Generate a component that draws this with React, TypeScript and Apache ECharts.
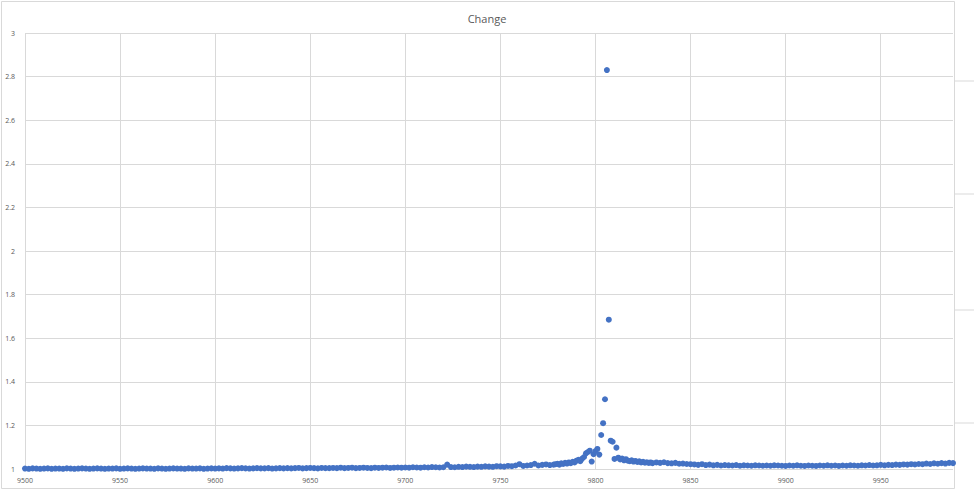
import React, { useEffect, useRef } from "react";
import * as echarts from "echarts";

const TITLE = "Change";
const X_MIN = 9500;
const X_MAX = 9988;
const Y_MIN = 1;
const Y_MAX = 3;

// Segment A: x = 9500..9598, step 2
const segAStart = 9500;
const segAStep = 2;
const segA = [
  1.002, 1.001, 1.003, 1.002, 1.001, 1.002, 1.003, 1.001, 1.002, 1.002,
  1.001, 1.003, 1.002, 1.001, 1.002, 1.003, 1.002, 1.001, 1.002, 1.003,
  1.002, 1.001, 1.002, 1.002, 1.003, 1.001, 1.002, 1.003, 1.002, 1.001,
  1.002, 1.003, 1.002, 1.002, 1.001, 1.003, 1.002, 1.001, 1.002, 1.003,
  1.002, 1.002, 1.001, 1.003, 1.002, 1.002, 1.003, 1.001, 1.002, 1.003,
];
// Segment B: x = 9600..9698, step 2
const segBStart = 9600;
const segBStep = 2;
const segB = [
  1.002, 1.003, 1.002, 1.004, 1.003, 1.002, 1.003, 1.004, 1.003, 1.002,
  1.003, 1.004, 1.003, 1.003, 1.004, 1.002, 1.003, 1.004, 1.003, 1.004,
  1.003, 1.004, 1.005, 1.003, 1.004, 1.005, 1.004, 1.003, 1.005, 1.004,
  1.004, 1.005, 1.004, 1.006, 1.004, 1.005, 1.006, 1.004, 1.005, 1.006,
  1.005, 1.004, 1.006, 1.005, 1.006, 1.007, 1.005, 1.006, 1.007, 1.006,
];
// Segment C: x = 9700..9778, step 2
const segCStart = 9700;
const segCStep = 2;
const segC = [
  1.007, 1.006, 1.008, 1.007, 1.006, 1.008, 1.007, 1.009, 1.008, 1.007,
  1.008, 1.02, 1.009, 1.008, 1.01, 1.009, 1.011, 1.01, 1.009, 1.011,
  1.01, 1.012, 1.011, 1.01, 1.013, 1.012, 1.011, 1.014, 1.013, 1.016,
  1.022, 1.014, 1.016, 1.018, 1.024, 1.016, 1.019, 1.021, 1.018, 1.02,
];
// Segment D (peak): x = 9779..9830, step 1
const segDStart = 9779;
const segDStep = 1;
const segD = [
  1.022, 1.024, 1.02, 1.026, 1.023, 1.028, 1.025, 1.03, 1.027, 1.033,
  1.03, 1.038, 1.042, 1.036, 1.048, 1.055, 1.072, 1.078, 1.084, 1.034,
  1.068, 1.082, 1.092, 1.066, 1.156, 1.21, 1.32, 2.83, 1.685, 1.13,
  1.125, 1.046, 1.098, 1.052, 1.044, 1.048, 1.04, 1.045, 1.038, 1.036,
  1.04, 1.034, 1.037, 1.032, 1.035, 1.03, 1.033, 1.029, 1.031, 1.028,
  1.03, 1.027,
];
// Segment E: x = 9832..9988, step 2
const segEStart = 9832;
const segEStep = 2;
const segE = [
  1.03, 1.028, 1.031, 1.027, 1.026, 1.028, 1.024, 1.025, 1.023, 1.022,
  1.021, 1.019, 1.022, 1.018, 1.02, 1.017, 1.019, 1.016, 1.018, 1.017,
  1.016, 1.018, 1.015, 1.017, 1.016, 1.015, 1.017, 1.016, 1.015, 1.016,
  1.015, 1.017, 1.016, 1.015, 1.014, 1.016, 1.015, 1.017, 1.015, 1.014,
  1.016, 1.015, 1.014, 1.016, 1.015, 1.017, 1.015, 1.016, 1.014, 1.016,
  1.015, 1.017, 1.016, 1.015, 1.017, 1.016, 1.018, 1.016, 1.017, 1.019,
  1.017, 1.019, 1.018, 1.02, 1.019, 1.021, 1.02, 1.022, 1.021, 1.023,
  1.022, 1.025, 1.023, 1.026, 1.024, 1.027, 1.025, 1.028, 1.027,
];

function toPoints(start: number, step: number, vals: number[]): number[][] {
  return vals.map((v, i) => [start + i * step, v]);
}

const points: number[][] = [
  ...toPoints(segAStart, segAStep, segA),
  ...toPoints(segBStart, segBStep, segB),
  ...toPoints(segCStart, segCStep, segC),
  ...toPoints(segDStart, segDStep, segD),
  ...toPoints(segEStart, segEStep, segE),
];

const GRID = "#d9d9d9";
const TEXT = "#595959";

export default function App() {
  const ref = useRef<HTMLDivElement>(null);
  useEffect(() => {
    if (!ref.current) return;
    const chart = echarts.init(ref.current, null, { renderer: "svg" });
    chart.setOption({
      animation: false,
      backgroundColor: "#ffffff",
      title: {
        text: TITLE,
        left: "center",
        top: 8,
        textStyle: {
          fontFamily: "Open Sans, sans-serif",
          fontSize: 11,
          fontWeight: "normal",
          color: TEXT,
        },
      },
      grid: { left: 25, right: 21, top: 33, bottom: 24 },
      xAxis: {
        type: "value",
        min: X_MIN,
        max: X_MAX,
        interval: 50,
        axisLine: { show: false },
        axisTick: { show: false },
        axisLabel: {
          showMaxLabel: false,
          fontSize: 7,
          color: TEXT,
          margin: 8,
          fontFamily: "Open Sans, sans-serif",
          formatter: (v: number) => String(v),
        },
        splitLine: { show: true, showMaxLine: false, lineStyle: { color: GRID, width: 1 } },
      },
      yAxis: {
        type: "value",
        min: Y_MIN,
        max: Y_MAX,
        interval: 0.2,
        axisLine: { show: false },
        axisTick: { show: false },
        axisLabel: {
          fontSize: 7,
          color: TEXT,
          margin: 10,
          fontFamily: "Open Sans, sans-serif",
        },
        splitLine: { show: true, lineStyle: { color: GRID, width: 1 } },
      },
      graphic: [
        {
          type: "rect",
          shape: { x: 1.5, y: 1.5, width: 953, height: 487 },
          style: { fill: "none", stroke: GRID, lineWidth: 1 },
          silent: true,
          z: -1,
        },
        { type: "line", shape: { x1: 955, y1: 81, x2: 974, y2: 81 }, style: { stroke: GRID, lineWidth: 1 } },
        { type: "line", shape: { x1: 955, y1: 194, x2: 974, y2: 194 }, style: { stroke: GRID, lineWidth: 1 } },
        { type: "line", shape: { x1: 955, y1: 310, x2: 974, y2: 310 }, style: { stroke: GRID, lineWidth: 1 } },
        { type: "line", shape: { x1: 955, y1: 423, x2: 974, y2: 423 }, style: { stroke: GRID, lineWidth: 1 } },
      ],
      series: [
        {
          type: "scatter",
          data: points,
          symbol: "circle",
          symbolSize: 6,
          clip: false,
          itemStyle: { color: "#4472c4", opacity: 1 },
        },
      ],
    });
    return () => chart.dispose();
  }, []);
  return (
    <div
      ref={ref}
      style={{ position: "fixed", left: 0, top: 0, width: 974, height: 493 }}
    />
  );
}
